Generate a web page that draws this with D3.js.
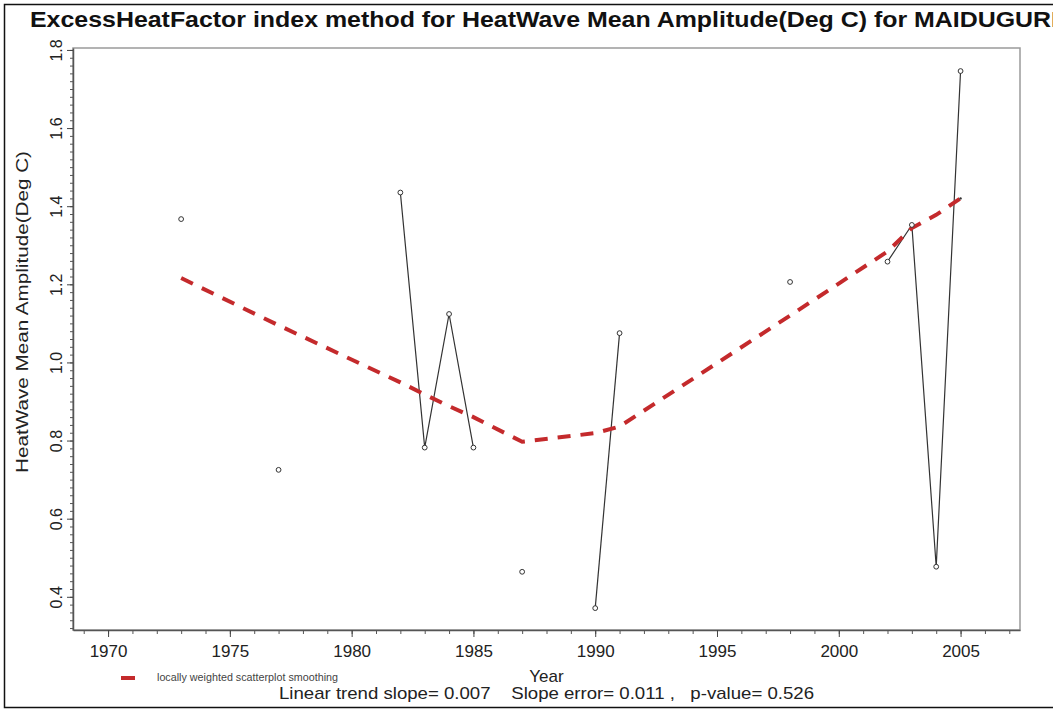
<!DOCTYPE html>
<html>
<head>
<meta charset="utf-8">
<script src="https://cdn.jsdelivr.net/npm/d3@7"></script>
<style>
  body { margin: 0; background: #fff; }
  svg { display: block; }
  text { font-family: "Liberation Sans", Arial, sans-serif; fill: #222; }
</style>
</head>
<body>
<div id="chart"></div>
<script>
// observed heatwave mean amplitude (years with no heatwave are missing)
const years = [1973, 1977, 1982, 1983, 1984, 1985, 1987, 1990, 1991, 1998, 2002, 2003, 2004, 2005];
const amplitude = [1.367, 0.725, 1.435, 0.782, 1.124, 0.782, 0.464, 0.371, 1.075, 1.206, 1.258, 1.352, 0.477, 1.746];
// lowess fit at the same years
const lowess = [1.216, 1.095, 0.949, 0.918, 0.888, 0.860, 0.797, 0.819, 0.836, 1.12, 1.284, 1.344, 1.378, 1.420];

const xMajor = [1970, 1975, 1980, 1985, 1990, 1995, 2000, 2005];
const yMajor = [0.4, 0.6, 0.8, 1.0, 1.2, 1.4, 1.6, 1.8];

const titleText = "ExcessHeatFactor index method for HeatWave Mean Amplitude(Deg C) for MAIDUGURI";
const yLabel = "HeatWave Mean Amplitude(Deg C)";
const xLabel = "Year";
const legendLabel = "locally weighted scatterplot smoothing";
const statsText = "Linear trend slope= 0.007    Slope error= 0.011 ,   p-value= 0.526";

const width = 1053, height = 713;
const box = { left: 73, right: 1020, top: 48, bottom: 630 };

const svg = d3.select('#chart').append('svg')
    .attr('width', width)
    .attr('height', height);

svg.append('rect')
    .attr('x', 0).attr('y', 0).attr('width', width).attr('height', height)
    .attr('fill', '#fff');

// outer frame of the picture (right side runs off the edge)
svg.append('rect')
    .attr('x', 4.5).attr('y', 4.5)
    .attr('width', 1070).attr('height', 703)
    .attr('fill', 'none')
    .attr('stroke', '#111')
    .attr('stroke-width', 1.5);

const x = d3.scaleLinear().domain([1968.56, 2007.44]).range([box.left, box.right]);
const y = d3.scaleLinear().domain([0.315, 1.805]).range([box.bottom, box.top]);

// plot box
svg.append('rect')
    .attr('x', box.left).attr('y', box.top)
    .attr('width', box.right - box.left).attr('height', box.bottom - box.top)
    .attr('fill', 'none')
    .attr('stroke', '#9a9a9a')
    .attr('stroke-width', 1.5);

// x axis, minor ticks every year
const xMinor = d3.range(1969, 2008);
svg.append('g')
    .attr('transform', `translate(0,${box.bottom})`)
    .call(d3.axisBottom(x).tickValues(xMinor).tickSize(4).tickFormat('').tickSizeOuter(0))
    .call(g => g.select('.domain').attr('stroke', '#555').attr('stroke-width', 1.5))
    .call(g => g.selectAll('.tick line').attr('stroke', '#555'));

svg.append('g')
    .attr('transform', `translate(0,${box.bottom})`)
    .call(d3.axisBottom(x).tickValues(xMajor).tickSize(7).tickFormat(d3.format('d')).tickSizeOuter(0))
    .call(g => g.select('.domain').remove())
    .call(g => g.selectAll('.tick line').attr('stroke', '#444'))
    .call(g => g.selectAll('.tick text')
        .attr('y', 15).attr('dy', '0.71em')
        .style('font-size', '17px')
        .style('fill', '#222'));

// y axis, minor ticks every 0.02
const yMinor = d3.range(0.32, 1.805, 0.02);
svg.append('g')
    .attr('transform', `translate(${box.left},0)`)
    .call(d3.axisLeft(y).tickValues(yMinor).tickSize(3).tickFormat('').tickSizeOuter(0))
    .call(g => g.select('.domain').attr('stroke', '#555').attr('stroke-width', 1.5))
    .call(g => g.selectAll('.tick line').attr('stroke', '#555'));

svg.append('g')
    .attr('transform', `translate(${box.left},0)`)
    .call(d3.axisLeft(y).tickValues(yMajor).tickSize(6).tickFormat(d3.format('.1f')).tickSizeOuter(0))
    .call(g => g.select('.domain').remove())
    .call(g => g.selectAll('.tick line').attr('stroke', '#444'))
    .call(g => g.selectAll('.tick text')
        .attr('transform', 'rotate(-90)')
        .attr('x', 0).attr('y', -11).attr('dy', 0)
        .style('text-anchor', 'middle')
        .style('font-size', '16px')
        .style('fill', '#222'));

// data series, broken where years are missing
const points = years.map((yr, i) => ({ yr, v: amplitude[i], s: lowess[i] }));
const runs = [];
points.forEach((p, i) => {
    if (i === 0 || p.yr - points[i - 1].yr > 1) runs.push([]);
    runs[runs.length - 1].push(p);
});

const line = d3.line().x(d => x(d.yr)).y(d => y(d.v));
svg.append('g').selectAll('path')
    .data(runs.filter(r => r.length > 1))
    .enter().append('path')
    .attr('d', line)
    .attr('fill', 'none')
    .attr('stroke', '#333')
    .attr('stroke-width', 1.2);

// lowess curve
const smooth = d3.line().x(d => x(d.yr)).y(d => y(d.s));
svg.append('path')
    .datum(points)
    .attr('d', smooth)
    .attr('fill', 'none')
    .attr('stroke', '#c42a2c')
    .attr('stroke-width', 4)
    .attr('stroke-dasharray', '13,10');

svg.append('circle')
    .attr('cx', x(years[years.length - 1]))
    .attr('cy', y(lowess[lowess.length - 1]))
    .attr('r', 1.2)
    .attr('fill', '#333');

svg.append('g').selectAll('circle')
    .data(points)
    .enter().append('circle')
    .attr('cx', d => x(d.yr))
    .attr('cy', d => y(d.v))
    .attr('r', 2.4)
    .attr('fill', '#fff')
    .attr('stroke', '#333')
    .attr('stroke-width', 1);

// labels
svg.append('text')
    .attr('x', 30).attr('y', 27)
    .attr('textLength', 1028)
    .attr('lengthAdjust', 'spacingAndGlyphs')
    .style('font-size', '22px')
    .style('font-weight', 'bold')
    .style('fill', '#111')
    .text(titleText);

svg.append('text')
    .attr('transform', 'translate(28,312) rotate(-90)')
    .attr('textLength', 322)
    .attr('lengthAdjust', 'spacingAndGlyphs')
    .style('text-anchor', 'middle')
    .style('font-size', '17px')
    .text(yLabel);

const cx = (box.left + box.right) / 2;
svg.append('text')
    .attr('x', cx).attr('y', 682)
    .style('text-anchor', 'middle')
    .style('font-size', '17px')
    .text(xLabel);

svg.append('text')
    .attr('x', cx).attr('y', 699)
    .attr('textLength', 535)
    .attr('lengthAdjust', 'spacingAndGlyphs')
    .style('text-anchor', 'middle')
    .style('font-size', '17px')
    .attr('xml:space', 'preserve')
    .text(statsText);

// legend
svg.append('line')
    .attr('x1', 121).attr('x2', 135)
    .attr('y1', 678).attr('y2', 678)
    .attr('stroke', '#c42a2c')
    .attr('stroke-width', 4);

svg.append('text')
    .attr('x', 157).attr('y', 681)
    .attr('textLength', 181)
    .attr('lengthAdjust', 'spacingAndGlyphs')
    .style('font-size', '10.5px')
    .style('fill', '#444')
    .text(legendLabel);
</script>
</body>
</html>
